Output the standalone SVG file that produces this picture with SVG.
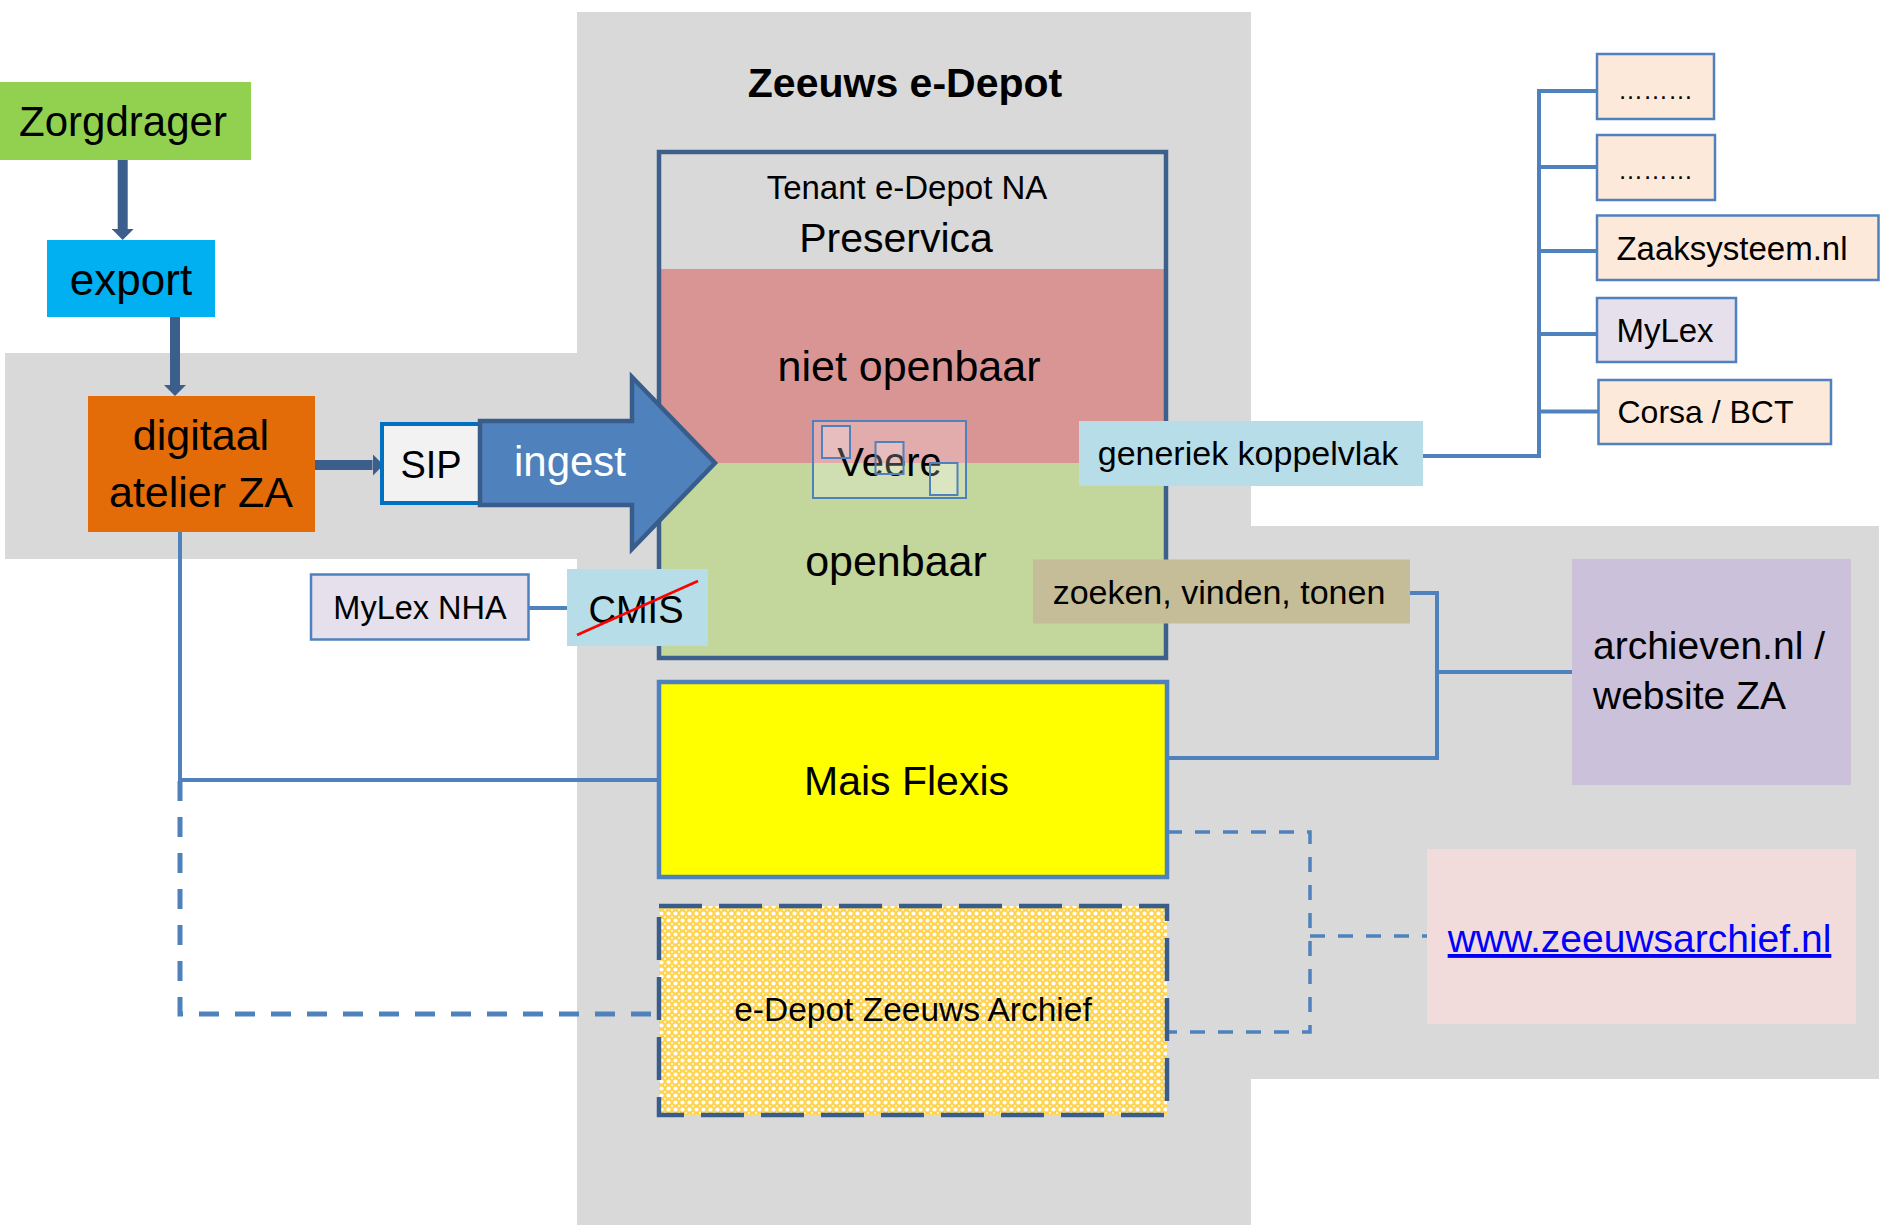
<svg xmlns="http://www.w3.org/2000/svg" width="1883" height="1225" viewBox="0 0 1883 1225">
<style>
text{font-family:"Liberation Sans",Arial,sans-serif;fill:#000}
.c{text-anchor:middle}
.arrow{stroke:#3B5E8C;stroke-width:10;fill:none}
.ln{stroke:#4F81BD;stroke-width:4;fill:none}
.dl{stroke:#4F81BD;stroke-width:5;fill:none;stroke-dasharray:20 16}
.dr{stroke:#4F81BD;stroke-width:3.5;fill:none;stroke-dasharray:15 13}
.sys{stroke:#4F81BD;stroke-width:2.5}
.peach{fill:#FDE9D9}
.lav{fill:#E5E0EC}
.veil{fill:#FFFFFF;fill-opacity:0.22;stroke:#4F81BD;stroke-width:2}
</style>
<defs>
<marker id="ah" markerUnits="userSpaceOnUse" viewBox="0 0 11 22" refX="0" refY="11" markerWidth="11" markerHeight="22" orient="auto">
<path d="M0,0 L11,11 L0,22 z" fill="#3B5E8C"/>
</marker>
<pattern id="chk" patternUnits="userSpaceOnUse" width="7" height="7">
<rect width="7" height="7" fill="#FFD34D"/>
<circle cx="3.5" cy="3.5" r="2.1" fill="#FFFFFF"/>
<circle cx="0" cy="0" r="1.2" fill="#FFF3C4"/>
<circle cx="7" cy="0" r="1.2" fill="#FFF3C4"/>
<circle cx="0" cy="7" r="1.2" fill="#FFF3C4"/>
<circle cx="7" cy="7" r="1.2" fill="#FFF3C4"/>
</pattern>
</defs>

<g id="background">
<rect x="5" y="353" width="572" height="206" fill="#D9D9D9"/>
<rect x="577" y="12" width="674" height="1213" fill="#D9D9D9"/>
<rect x="1251" y="526" width="628" height="553" fill="#D9D9D9"/>
</g>

<g id="title">
<text class="c" x="905" y="97" font-size="41" font-weight="bold">Zeeuws e-Depot</text>
</g>

<g id="tenant">
<rect x="659" y="152" width="507" height="506" fill="#D9D9D9"/>
<rect x="661" y="269" width="503" height="194" fill="#D99594"/>
<rect x="661" y="463" width="503" height="193" fill="#C3D69B"/>
<rect x="659" y="152" width="507" height="506" fill="none" stroke="#3C5F8C" stroke-width="4.5"/>
<text class="c" x="907" y="199" font-size="33">Tenant e-Depot NA</text>
<text class="c" x="896" y="252" font-size="41">Preservica</text>
<text class="c" x="909" y="381" font-size="43">niet openbaar</text>
<text class="c" x="896" y="576" font-size="43">openbaar</text>
</g>

<g id="veere">
<rect class="veil" x="813" y="421" width="153" height="77"/>
<text class="c" x="889.5" y="476" font-size="40">Veere</text>
<rect class="veil" x="822" y="426" width="28" height="32"/>
<rect class="veil" x="875.5" y="442" width="28" height="32"/>
<rect class="veil" x="930" y="463" width="27.5" height="32"/>
</g>

<g id="connectors">
<line class="arrow" x1="122.7" y1="160" x2="122.7" y2="229" marker-end="url(#ah)"/>
<line class="arrow" x1="175" y1="317" x2="175" y2="385" marker-end="url(#ah)"/>
<line class="arrow" x1="315" y1="465" x2="372.5" y2="465" marker-end="url(#ah)"/>
<path class="ln" d="M180,532 V780 H659"/>
<path class="dl" d="M180,781 V1014 H659"/>
<path class="ln" stroke-width="3" d="M529,608 H567"/>
<path class="ln" d="M1423,456 H1539 V91 H1597 M1539,167 H1597 M1539,251 H1597 M1539,334 H1597 M1539,411.5 H1598.5"/>
<path class="ln" stroke-width="3.5" d="M1410,593 H1437 V758 H1167 M1437,672 H1572"/>
<path class="dr" d="M1167,832 H1310 V1032 H1167 M1310,936 H1427"/>
</g>

<g id="zorgdrager">
<rect x="0" y="82" width="251" height="78" fill="#92D050"/>
<text class="c" x="123" y="136" font-size="42">Zorgdrager</text>
</g>

<g id="export">
<rect x="47" y="240" width="168" height="77" fill="#00B0F0"/>
<text class="c" x="131" y="295" font-size="44">export</text>
</g>

<g id="digitaal-atelier">
<rect x="88" y="396" width="227" height="136" fill="#E36C09"/>
<text class="c" x="201" y="450" font-size="43">digitaal</text>
<text class="c" x="201" y="507" font-size="43">atelier ZA</text>
</g>

<g id="sip">
<rect x="382" y="424" width="98" height="79" fill="#F2F2F2" stroke="#0070C0" stroke-width="4"/>
<text class="c" x="431" y="478" font-size="38">SIP</text>
</g>

<g id="ingest">
<polygon points="480,421 632,421 632,377 715,463 632,549 632,505 480,505" fill="#4F81BD" stroke="#385D8A" stroke-width="4.5" stroke-linejoin="miter"/>
<text class="c" x="570" y="476" font-size="42" style="fill:#FFFFFF">ingest</text>
</g>

<g id="generiek-koppelvlak">
<rect x="1079" y="421" width="344" height="65" fill="#B7DEE8"/>
<text class="c" x="1248" y="465" font-size="34">generiek koppelvlak</text>
</g>

<g id="zoeken">
<rect x="1033" y="559.5" width="377" height="64" fill="#C4BD97"/>
<text class="c" x="1219" y="604" font-size="34">zoeken, vinden, tonen</text>
</g>

<g id="sys1">
<rect class="peach sys" x="1597" y="54" width="117" height="65"/>
<text x="1618" y="99" font-size="25">………</text>
</g>
<g id="sys2">
<rect class="peach sys" x="1597" y="135" width="118" height="65"/>
<text x="1618" y="179" font-size="25">………</text>
</g>
<g id="zaaksysteem">
<rect class="peach sys" x="1597" y="215.5" width="281.5" height="64.5"/>
<text class="c" x="1732" y="260" font-size="33">Zaaksysteem.nl</text>
</g>
<g id="mylex">
<rect class="lav sys" x="1597" y="298" width="139" height="64"/>
<text class="c" x="1665" y="342" font-size="33">MyLex</text>
</g>
<g id="corsa">
<rect class="peach sys" x="1598.5" y="380" width="232.5" height="64"/>
<text class="c" x="1705.5" y="423" font-size="32">Corsa / BCT</text>
</g>

<g id="archieven">
<rect x="1572" y="559" width="279" height="226" fill="#CCC1DA"/>
<text x="1593" y="659" font-size="39">archieven.nl /</text>
<text x="1593" y="709" font-size="39">website ZA</text>
</g>

<g id="zeeuwsarchief">
<rect x="1427" y="849" width="429" height="175" fill="#F2DCDB"/>
<text class="c" x="1639.5" y="952" font-size="39" text-decoration="underline" style="fill:#0000FF">www.zeeuwsarchief.nl</text>
</g>

<g id="mais-flexis">
<rect x="659" y="682" width="508" height="195" fill="#FFFF00" stroke="#4F81BD" stroke-width="4.5"/>
<text class="c" x="906.5" y="795" font-size="41">Mais Flexis</text>
</g>

<g id="edepot-za">
<rect x="659" y="906" width="508" height="209" fill="url(#chk)" stroke="#385D8A" stroke-width="4.5" stroke-dasharray="43 17"/>
<text class="c" x="913" y="1021" font-size="33.5">e-Depot Zeeuws Archief</text>
</g>

<g id="mylex-nha">
<rect x="311" y="574.5" width="217.5" height="65" fill="#E5E0EC" stroke="#4F81BD" stroke-width="2.5"/>
<text class="c" x="420" y="619" font-size="32.5">MyLex NHA</text>
</g>

<g id="cmis">
<rect x="567" y="569" width="141" height="77" fill="#B7DEE8"/>
<text class="c" x="636" y="623" font-size="38">CMIS</text>
<line x1="577" y1="635" x2="698" y2="581" stroke="#FF0000" stroke-width="2.5"/>
</g>
</svg>
